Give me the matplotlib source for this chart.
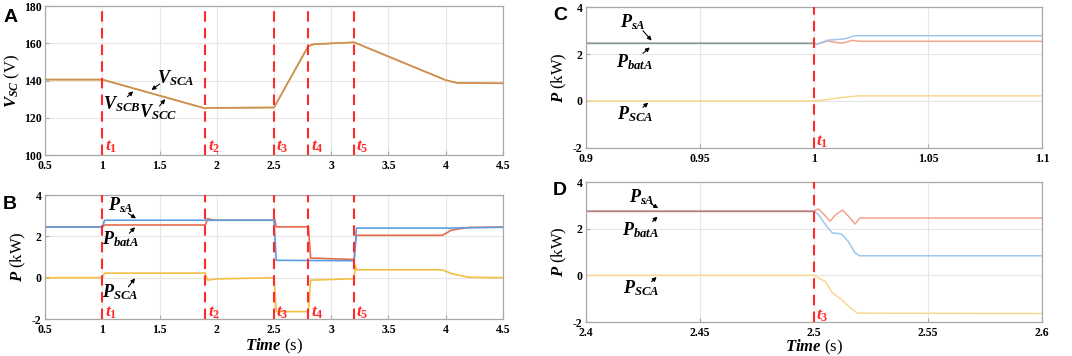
import numpy as np
import matplotlib
matplotlib.use("Agg")
import matplotlib.pyplot as plt

plt.rcParams['font.family'] = ['Liberation Serif', 'DejaVu Serif']
plt.rcParams['font.weight'] = 'bold'
plt.rcParams['mathtext.fontset'] = 'custom'
plt.rcParams['mathtext.rm'] = 'Liberation Serif:bold'
plt.rcParams['mathtext.it'] = 'Liberation Serif:italic:bold'
plt.rcParams['mathtext.bf'] = 'Liberation Serif:bold'
plt.rcParams['axes.unicode_minus'] = False

# ---- data ----
# panel A: supercapacitor voltages (all three overlap)
t_a = [0.5, 1.0, 1.9, 1.92, 2.5, 2.8, 2.85, 3.2, 4.0, 4.1, 4.5]
v_sc = [140.5, 140.5, 125.0, 125.3, 125.5, 158.5, 159.5, 160.5, 140.2, 138.7, 138.5]

# panel B: powers over the whole run
t_b_sa = [0.5, 1.0, 1.01, 1.02, 2.5, 2.52, 3.2, 3.21, 3.22, 4.0, 4.5]
p_b_sa = [2.45, 2.45, 2.6, 2.78, 2.78, 0.84, 0.82, 1.5, 2.4, 2.4, 2.44]
t_b_bat = [0.5, 1.0, 1.02, 1.9, 1.92, 1.98, 2.5, 2.505, 2.52, 2.8, 2.82, 3.2, 3.21, 3.22, 3.97, 4.05, 4.2, 4.5]
p_b_bat = [2.45, 2.45, 2.55, 2.55, 2.85, 2.78, 2.78, 2.85, 2.46, 2.46, 0.95, 0.88, 1.6, 2.05, 2.05, 2.3, 2.43, 2.45]
t_b_sc = [0.5, 1.0, 1.02, 1.9, 1.92, 2.0, 2.5, 2.52, 2.8, 2.82, 3.2, 3.21, 3.22, 3.97, 4.05, 4.2, 4.5]
p_b_sc = [0, 0, 0.22, 0.22, -0.12, -0.06, 0, -1.64, -1.64, -0.12, -0.05, 0.6, 0.38, 0.38, 0.2, 0.02, 0]

# panel C: zoom around t1
t_c_sa = [0.9, 1.0, 1.0015, 1.006, 1.012, 1.014, 1.018, 1.1]
p_c_sa = [2.46, 2.46, 2.42, 2.59, 2.63, 2.66, 2.78, 2.78]
t_c_bat = [0.9, 1.0, 1.0015, 1.006, 1.012, 1.017, 1.02, 1.1]
p_c_bat = [2.46, 2.46, 2.42, 2.55, 2.46, 2.58, 2.54, 2.54]
t_c_sc = [0.9, 1.0, 1.005, 1.01, 1.015, 1.02, 1.1]
p_c_sc = [0, 0, 0.05, 0.12, 0.18, 0.22, 0.22]

# panel D: zoom around t3
t_d_sa = [2.4, 2.5, 2.502, 2.505, 2.508, 2.512, 2.515, 2.518, 2.52, 2.6]
p_d_sa = [2.76, 2.76, 2.6, 2.18, 1.82, 1.78, 1.46, 0.97, 0.84, 0.84]
t_d_bat = [2.4, 2.5, 2.502, 2.5045, 2.507, 2.5095, 2.5125, 2.5155, 2.518, 2.52, 2.6]
p_d_bat = [2.76, 2.76, 2.85, 2.6, 2.32, 2.6, 2.8, 2.5, 2.2, 2.46, 2.46]
t_d_sc = [2.4, 2.5, 2.505, 2.508, 2.512, 2.515, 2.519, 2.6]
p_d_sc = [0, 0, -0.27, -0.74, -1.03, -1.31, -1.62, -1.64]

events = [1.0, 1.9, 2.5, 2.8, 3.2]
event_labels = [r'$t_1$', r'$t_2$', r'$t_3$', r'$t_4$', r'$t_5$']

c_sa, c_bat, c_sc = '#5b9fe0', '#e86c4c', '#f4bf45'
c_sa2, c_bat2, c_sc2 = '#9cc8f0', '#f2a48c', '#f8d890'
red = '#ff2a2a'

fig = plt.figure(figsize=(10.72, 3.56), dpi=100)
axA = fig.add_axes([0.042, 0.5646, 0.4272, 0.4185])
axB = fig.add_axes([0.042, 0.1039, 0.4272, 0.3483])
axC = fig.add_axes([0.5466, 0.5843, 0.4254, 0.396])
axD = fig.add_axes([0.5466, 0.0955, 0.4254, 0.393])


def style(ax):
    ax.grid(True, color='#e6e6e6', lw=0.8)
    ax.set_axisbelow(True)
    for s in ax.spines.values():
        s.set_color('#a8a8a8')
        s.set_linewidth(0.9)
    ax.tick_params(direction='in', length=3, color='#a8a8a8', labelsize=8.5)
    ax.tick_params(axis='x', pad=3.5)
    ax.tick_params(axis='y', pad=2.5)
    for lab in ax.get_xticklabels() + ax.get_yticklabels():
        lab.set_fontweight('bold')


def vline(ax, x, lab, ylab):
    ax.axvline(x, color=red, lw=1.5, ls=(0, (5, 3)), zorder=5)
    ax.text(x + (ax.get_xlim()[1] - ax.get_xlim()[0]) * 0.005, ylab, lab,
            color=red, fontsize=12.5, ha='left', va='center', zorder=6)


def note(ax, txt, xy, xytext, tail):
    ax.text(xytext[0], xytext[1], txt, fontsize=13, ha='center', va='center')
    ax.annotate('', xy=xy, xytext=tail,
                arrowprops=dict(arrowstyle='-|>', color='k', lw=0.8,
                                mutation_scale=6, shrinkA=0, shrinkB=0))


# ---- A ----
axA.plot(t_a, v_sc, color=c_sc, lw=1.3)
axA.plot(t_a, v_sc, color=c_bat, lw=1.1, alpha=0.6)
axA.plot(t_a, v_sc, color='#c4945e', lw=1.0)
axA.set_xlim(0.5, 4.5)
axA.set_ylim(100, 180)
axA.set_xticks(np.arange(0.5, 4.51, 0.5))
axA.set_xticklabels(['0.5', '1', '1.5', '2', '2.5', '3', '3.5', '4', '4.5'])
axA.set_yticks([100, 120, 140, 160, 180])
style(axA)
for x, lab in zip(events, event_labels):
    vline(axA, x, lab, 104.5)
axA.set_ylabel(r'$V_{SC}$ (V)', fontsize=12, labelpad=1)
note(axA, r'$V_{SCA}$', (1.43, 134.9), (1.64, 141.5), (1.5, 138.1))
note(axA, r'$V_{SCB}$', (1.27, 134.2), (1.17, 127.5), (1.22, 131.3))
note(axA, r'$V_{SCC}$', (1.55, 130.0), (1.49, 123.0), (1.5, 126.3))
fig.text(0.003, 0.975, 'A', fontsize=14, fontweight='bold',
         family='Liberation Sans', va='top')

# ---- B ----
axB.plot(t_b_sc, p_b_sc, color=c_sc, lw=1.2)
axB.plot(t_b_bat, p_b_bat, color=c_bat, lw=1.2)
axB.plot(t_b_sa, p_b_sa, color=c_sa, lw=1.2)
axB.set_xlim(0.5, 4.5)
axB.set_ylim(-2, 4)
axB.set_xticks(np.arange(0.5, 4.51, 0.5))
axB.set_xticklabels(['0.5', '1', '1.5', '2', '2.5', '3', '3.5', '4', '4.5'])
axB.set_yticks([-2, 0, 2, 4])
style(axB)
for x, lab in zip(events, event_labels):
    vline(axB, x, lab, -1.68)
axB.set_ylabel(r'$P$ (kW)', fontsize=12, labelpad=3)
axB.set_xlabel(r'$Time$ (s)', fontsize=12, labelpad=0.5)
note(axB, r'$P_{sA}$', (1.295, 2.87), (1.16, 3.52), (1.228, 3.11))
note(axB, r'$P_{batA}$', (1.286, 2.44), (1.16, 1.87), (1.236, 2.15))
note(axB, r'$P_{SCA}$', (1.286, -0.03), (1.16, -0.72), (1.228, -0.44))
fig.text(0.003, 0.45, 'B', fontsize=14, fontweight='bold',
         family='Liberation Sans', va='top')

# ---- C ----
axC.plot(t_c_sc, p_c_sc, color=c_sc2, lw=1.1)
axC.plot(t_c_bat, p_c_bat, color=c_bat2, lw=1.1)
axC.plot(t_c_sa, p_c_sa, color=c_sa2, lw=1.1)
axC.plot([t_c_sa[0], t_c_sa[1]], [p_c_sa[0], p_c_sa[1]], color='#8a9a8a', lw=1.0)
axC.set_xlim(0.9, 1.1)
axC.set_ylim(-2, 4)
axC.set_xticks([0.9, 0.95, 1.0, 1.05, 1.1])
axC.set_xticklabels(['0.9', '0.95', '1', '1.05', '1.1'])
axC.set_yticks([-2, 0, 2, 4])
style(axC)
vline(axC, 1.0, r'$t_1$', -1.74)
axC.set_ylabel(r'$P$ (kW)', fontsize=12, labelpad=3)
note(axC, r'$P_{sA}$', (0.9288, 2.57), (0.9205, 3.36), (0.925, 2.99))
note(axC, r'$P_{batA}$', (0.928, 2.28), (0.9215, 1.67), (0.925, 2.03))
note(axC, r'$P_{SCA}$', (0.9273, -0.07), (0.9215, -0.55), (0.925, -0.27))
fig.text(0.516, 0.98, 'C', fontsize=14, fontweight='bold',
         family='Liberation Sans', va='top')

# ---- D ----
axD.plot(t_d_sc, p_d_sc, color=c_sc2, lw=1.1)
axD.plot(t_d_sa, p_d_sa, color=c_sa2, lw=1.1)
axD.plot(t_d_bat, p_d_bat, color=c_bat2, lw=1.1)
axD.plot([t_d_bat[0], t_d_bat[1]], [p_d_bat[0], p_d_bat[1]], color='#b08080', lw=1.0)
axD.set_xlim(2.4, 2.6)
axD.set_ylim(-2, 4)
axD.set_xticks([2.4, 2.45, 2.5, 2.55, 2.6])
axD.set_xticklabels(['2.4', '2.45', '2.5', '2.55', '2.6'])
axD.set_yticks([-2, 0, 2, 4])
style(axD)
vline(axD, 2.5, r'$t_3$', -1.74)
axD.set_ylabel(r'$P$ (kW)', fontsize=12, labelpad=3)
axD.set_xlabel(r'$Time$ (s)', fontsize=12, labelpad=-0.5)
note(axD, r'$P_{sA}$', (2.4317, 2.88), (2.4244, 3.37), (2.4288, 3.05))
note(axD, r'$P_{batA}$', (2.4314, 2.52), (2.424, 1.96), (2.4292, 2.31))
note(axD, r'$P_{SCA}$', (2.431, -0.07), (2.4244, -0.55), (2.4288, -0.27))
fig.text(0.516, 0.49, 'D', fontsize=14, fontweight='bold',
         family='Liberation Sans', va='top')

fig.savefig('out.png', dpi=100)
